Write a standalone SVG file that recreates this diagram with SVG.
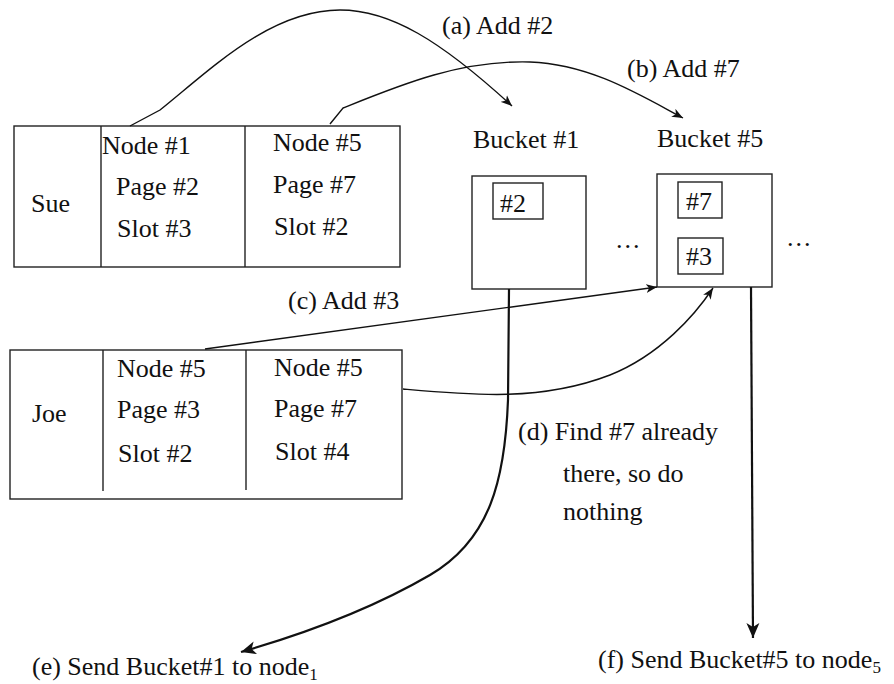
<svg xmlns="http://www.w3.org/2000/svg" width="894" height="684" viewBox="0 0 894 684">
<style>
text{font-family:"Liberation Serif","Times New Roman",serif;font-size:26px;fill:#111}
.box{fill:none;stroke:#222;stroke-width:1.4}
.c{fill:none;stroke:#111;stroke-width:1.4}
.t{fill:none;stroke:#111;stroke-width:2.2}
.sub{font-size:17px}
</style>
<defs>
<marker id="ah" markerUnits="userSpaceOnUse" markerWidth="12" markerHeight="10" refX="11" refY="5" orient="auto">
<path d="M0,0.5 L11,5 L0,9.5 L3,5 Z" fill="#111"/>
</marker>
<marker id="ahb" markerUnits="userSpaceOnUse" markerWidth="16" markerHeight="14" refX="15" refY="7" orient="auto">
<path d="M0,0.5 L15,7 L0,13.5 L4,7 Z" fill="#111"/>
</marker>
</defs>
<g id="sue">
<rect class="box" x="14" y="126" width="386" height="141"/>
<line class="box" x1="101" y1="126" x2="101" y2="267"/>
<line class="box" x1="245" y1="126" x2="245" y2="267"/>
<text x="31" y="212">Sue</text>
<text x="102" y="154">Node #1</text>
<text x="116" y="195">Page #2</text>
<text x="117" y="237">Slot #3</text>
<text x="273" y="151">Node #5</text>
<text x="273" y="193">Page #7</text>
<text x="274" y="235">Slot #2</text>
</g>
<g id="joe">
<rect class="box" x="10" y="350" width="392" height="149"/>
<line class="box" x1="103" y1="350" x2="103" y2="491"/>
<line class="box" x1="246" y1="350" x2="246" y2="490"/>
<text x="32" y="422">Joe</text>
<text x="117" y="377">Node #5</text>
<text x="117" y="418">Page #3</text>
<text x="118" y="462">Slot #2</text>
<text x="274" y="376">Node #5</text>
<text x="274" y="417">Page #7</text>
<text x="275" y="460">Slot #4</text>
</g>
<g id="bucket1">
<text x="473" y="148">Bucket #1</text>
<rect class="box" x="472" y="176" width="114" height="113"/>
<rect class="box" x="493" y="183" width="50" height="36"/>
<text x="500" y="212">#2</text>
</g>
<g id="bucket5">
<text x="657" y="147">Bucket #5</text>
<rect class="box" x="657" y="174" width="115" height="113"/>
<rect class="box" x="678" y="182" width="44" height="36"/>
<text x="686" y="210">#7</text>
<rect class="box" x="678" y="238" width="45" height="36"/>
<text x="686" y="265">#3</text>
</g>
<g id="dots">
<text x="616" y="248" letter-spacing="2">...</text>
<text x="787" y="246" letter-spacing="2">...</text>
</g>
<g id="connectors">
<path class="c" d="M130,126 L160,110 C 210,70 270,10 340,10 C 390,10 440,40 512,106" marker-end="url(#ah)"/>
<path class="c" d="M330,124 L343,108 C 400,85 460,60 530,62 C 590,64 640,95 683,118" marker-end="url(#ah)"/>
<path class="c" d="M205,349 L657,287" marker-end="url(#ah)"/>
<path class="c" d="M403,389 C 470,395 540,402 610,375 C 660,355 695,315 713,288" marker-end="url(#ah)"/>
<path class="t" d="M509,289 L508,400 C 505,480 490,540 430,575 C 370,610 300,635 241,652" marker-end="url(#ahb)"/>
<path class="t" d="M751,287 L753,638" marker-end="url(#ahb)"/>
</g>
<g id="labels">
<text x="442" y="34">(a) Add #2</text>
<text x="627" y="77">(b) Add #7</text>
<text x="288" y="309">(c) Add #3</text>
<text x="518" y="440">(d) Find #7 already</text>
<text x="563" y="482">there, so do</text>
<text x="563" y="520">nothing</text>
<text x="32" y="675">(e) Send Bucket#1 to node<tspan class="sub" dy="5">1</tspan></text>
<text x="598" y="668">(f) Send Bucket#5 to node<tspan class="sub" dy="5">5</tspan></text>
</g>
</svg>
